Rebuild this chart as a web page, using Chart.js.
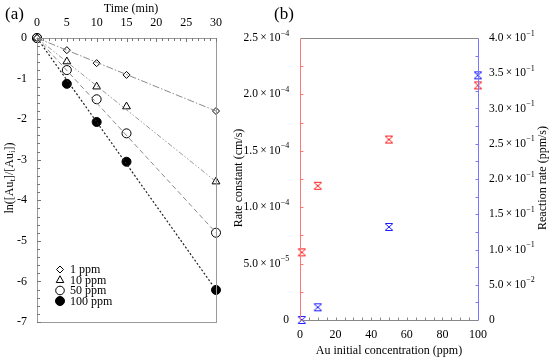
<!DOCTYPE html>
<html>
<head>
<meta charset="utf-8">
<script src="https://cdn.jsdelivr.net/npm/chart.js@4.4.1/dist/chart.umd.min.js"></script>
<style>
html,body{margin:0;padding:0;background:#fff;}
#wrap{position:relative;width:550px;height:360px;overflow:hidden;background:#fff;}
canvas{position:absolute;top:0;}
#ca{left:0;}
#cb{left:230px;}
</style>
</head>
<body>
<div id="wrap">
<canvas id="ca" width="275" height="360"></canvas>
<canvas id="cb" width="320" height="360"></canvas>
</div>
<script>
// ---------- Panel (a) data ----------
const times = [0, 5, 10, 15, 30];
const ppm1 = [0, -0.30, -0.62, -0.91, -1.80];
const ppm10 = [0, -0.58, -1.20, -1.69, -3.54];
const ppm50 = [0, -0.79, -1.51, -2.35, -4.80];
const ppm100 = [0, -1.13, -2.07, -3.05, -6.21];
const fitTimes = [0, 30];
const fit1 = [0, -1.80];
const fit10 = [0, -3.54];
const fit50 = [0, -4.80];
const fit100 = [0, -6.21];
const seriesNames = ['1 ppm', '10 ppm', '50 ppm', '100 ppm'];

// ---------- Panel (b) data ----------
const conc = [1, 10, 50, 100];
const rateConst = [6.0e-5, 1.19e-4, 1.60e-4, 2.08e-4];
const reactRate = [0.0, 0.018, 0.132, 0.347];
const xTicksB = ['0', '20', '40', '60', '80', '100'];
const leftMant = ['0', '5.0', '1.0', '1.5', '2.0', '2.5'];
const leftExp = ['', '\u22125', '\u22124', '\u22124', '\u22124', '\u22124'];
const rightMant = ['0', '5.0', '1.0', '1.5', '2.0', '2.5', '3.0', '3.5', '4.0'];
const rightExp = ['', '\u22122', '\u22121', '\u22121', '\u22121', '\u22121', '\u22121', '\u22121', '\u22121'];

const SERIF = "'Liberation Serif', 'Times New Roman', serif";
const pts = (xs, ys) => xs.map((x, i) => ({x: x, y: ys[i]}));

function asteriskMarker(color) {
  const c = document.createElement('canvas');
  c.width = 10; c.height = 10;
  const g = c.getContext('2d');
  g.strokeStyle = color; g.lineWidth = 1;
  g.beginPath();
  g.moveTo(1, 1.5); g.lineTo(9, 8.5);
  g.moveTo(9, 1.5); g.lineTo(1, 8.5);
  g.moveTo(1.5, 1.5); g.lineTo(8.5, 1.5);
  g.moveTo(1.5, 8.5); g.lineTo(8.5, 8.5);
  g.stroke();
  return c;
}

function drawMarker(ctx, style, x, y) {
  ctx.save();
  ctx.lineWidth = 1;
  ctx.strokeStyle = '#000';
  ctx.fillStyle = '#fff';
  ctx.beginPath();
  if (style === 'diamond') {
    const r = 3.5;
    ctx.moveTo(x, y - r); ctx.lineTo(x + r, y); ctx.lineTo(x, y + r); ctx.lineTo(x - r, y); ctx.closePath();
  } else if (style === 'triangle') {
    const r = 4.2;
    ctx.moveTo(x, y - r); ctx.lineTo(x + r * 0.9, y + r * 0.6); ctx.lineTo(x - r * 0.9, y + r * 0.6); ctx.closePath();
  } else if (style === 'circle') {
    ctx.arc(x, y, 4.3, 0, Math.PI * 2);
  } else {
    ctx.fillStyle = '#000';
    ctx.arc(x, y, 4.5, 0, Math.PI * 2);
  }
  ctx.fill(); ctx.stroke();
  ctx.restore();
}

// ---------- Chart A ----------
const decorA = {
  id: 'decorA',
  afterDraw(chart) {
    const ctx = chart.ctx;
    const a = chart.chartArea;
    const xs = chart.scales.x, ys = chart.scales.y;
    ctx.save();
    ctx.strokeStyle = '#999';
    ctx.lineWidth = 1;
    ctx.strokeRect(Math.round(a.left) + 0.5, Math.round(a.top) + 0.5, Math.round(a.right - a.left), Math.round(a.bottom - a.top));
    ctx.strokeStyle = '#777';
    ctx.beginPath();
    for (let t = 0; t <= 30; t++) {
      const px = Math.round(xs.getPixelForValue(t)) + 0.5;
      const len = (t % 5 === 0) ? 4 : 3;
      ctx.moveTo(px, a.top); ctx.lineTo(px, a.top + len);
    }
    for (let k = 0; k <= 35; k++) {
      const v = -k * 0.2;
      const py = Math.round(ys.getPixelForValue(v)) + 0.5;
      const len = (k % 5 === 0) ? 4 : 3;
      ctx.moveTo(a.left, py); ctx.lineTo(a.left + len, py);
    }
    ctx.stroke();
    ctx.fillStyle = '#000';
    ctx.font = '17px ' + SERIF;
    ctx.textAlign = 'left'; ctx.textBaseline = 'middle';
    ctx.fillText('(a)', 5, 15);
    ctx.font = '12px ' + SERIF;
    ctx.textAlign = 'center';
    ctx.fillText('Time (min)', 131, 9);
    ctx.save();
    ctx.translate(10, 178);
    ctx.rotate(-Math.PI / 2);
    const segs = [['ln([Au', 0], ['t', 1], [']/[Au', 0], ['i', 1], ['])', 0]];
    let total = 0;
    segs.forEach(s => { ctx.font = (s[1] ? '9px ' : '12px ') + SERIF; total += ctx.measureText(s[0]).width; });
    let cx = -total / 2;
    ctx.textAlign = 'left';
    segs.forEach(s => {
      ctx.font = (s[1] ? '9px ' : '12px ') + SERIF;
      ctx.fillText(s[0], cx, s[1] ? 3 : 0);
      cx += ctx.measureText(s[0]).width;
    });
    ctx.restore();
    const styles = ['diamond', 'triangle', 'circle', 'filled'];
    const rowsY = [269.5, 280, 290.5, 301];
    ctx.font = '12px ' + SERIF;
    ctx.textAlign = 'left'; ctx.textBaseline = 'middle';
    seriesNames.forEach((n, i) => {
      drawMarker(ctx, styles[i], 60, rowsY[i]);
      ctx.fillStyle = '#000';
      ctx.fillText(n, 70, rowsY[i] + 0.5);
    });
    ctx.restore();
  }
};

new Chart(document.getElementById('ca'), {
  type: 'scatter',
  data: {
    datasets: [
      {data: pts(fitTimes, fit1), showLine: true, borderColor: '#8a8a8a', borderWidth: 1, borderDash: [7, 2, 1.5, 2], pointRadius: 0, clip: false},
      {data: pts(fitTimes, fit10), showLine: true, borderColor: '#9a9a9a', borderWidth: 1, borderDash: [5, 2, 1.5, 2, 1.5, 2], pointRadius: 0, clip: false},
      {data: pts(fitTimes, fit50), showLine: true, borderColor: '#8a8a8a', borderWidth: 1, borderDash: [5, 3], pointRadius: 0, clip: false},
      {data: pts(fitTimes, fit100), showLine: true, borderColor: '#222', borderWidth: 1.2, borderDash: [2, 2], pointRadius: 0, clip: false},
      {label: seriesNames[0], data: pts(times, ppm1), pointStyle: 'rectRot', pointRadius: 3.5, backgroundColor: '#fff', borderColor: '#000', borderWidth: 1, clip: false},
      {label: seriesNames[1], data: pts(times, ppm10), pointStyle: 'triangle', pointRadius: 4.5, backgroundColor: '#fff', borderColor: '#000', borderWidth: 1, clip: false},
      {label: seriesNames[2], data: pts(times, ppm50), pointStyle: 'circle', pointRadius: 4.5, backgroundColor: '#fff', borderColor: '#000', borderWidth: 1, clip: false},
      {label: seriesNames[3], data: pts(times, ppm100), pointStyle: 'circle', pointRadius: 4.5, backgroundColor: '#000', borderColor: '#000', borderWidth: 1, clip: false}
    ]
  },
  options: {
    responsive: false,
    animation: false,
    layout: {padding: {right: 59, bottom: 38}},
    plugins: {legend: {display: false}, tooltip: {enabled: false}},
    scales: {
      x: {
        type: 'linear', position: 'top', min: 0, max: 30,
        grid: {display: false, drawTicks: false}, border: {display: false},
        ticks: {stepSize: 5, padding: 8, color: '#000', font: {family: SERIF, size: 12}, maxRotation: 0},
        afterFit: s => { s.height = 38; }
      },
      y: {
        type: 'linear', min: -7, max: 0,
        grid: {display: false, drawTicks: false}, border: {display: false},
        ticks: {stepSize: 1, padding: 10, color: '#000', font: {family: SERIF, size: 12}},
        afterFit: s => { s.width = 37; }
      }
    }
  },
  plugins: [decorA]
});

// ---------- Chart B ----------
function sciLabel(ctx, mant, exp, x, y, align) {
  ctx.save();
  ctx.textBaseline = 'middle';
  ctx.textAlign = 'left';
  const main = exp ? mant + '\u2009\u00d7\u200910' : mant;
  ctx.font = '11.5px ' + SERIF;
  const w1 = ctx.measureText(main).width;
  ctx.font = '8px ' + SERIF;
  const w2 = exp ? ctx.measureText(exp).width : 0;
  const start = align === 'right' ? x - w1 - w2 : x;
  ctx.font = '11.5px ' + SERIF;
  ctx.fillText(main, start, y);
  if (exp) {
    ctx.font = '8px ' + SERIF;
    ctx.fillText(exp, start + w1 + 0.3, y - 4.5);
  }
  ctx.restore();
}

const decorB = {
  id: 'decorB',
  afterDraw(chart) {
    const ctx = chart.ctx;
    const a = chart.chartArea;
    const xs = chart.scales.x, yl = chart.scales.yL, yr = chart.scales.yR;
    const L = Math.round(a.left) + 0.5, R = Math.round(a.right) + 0.5, T = Math.round(a.top) + 0.5, B = Math.round(a.bottom) + 0.5;
    ctx.save();
    ctx.lineWidth = 1;
    ctx.strokeStyle = '#888';
    ctx.beginPath();
    ctx.moveTo(L, T); ctx.lineTo(R, T);
    ctx.moveTo(L, B); ctx.lineTo(R, B);
    for (let v = 5; v < 100; v += 5) {
      const px = Math.round(xs.getPixelForValue(v)) + 0.5;
      ctx.moveTo(px, B); ctx.lineTo(px, B - 3);
    }
    ctx.stroke();
    ctx.strokeStyle = 'rgb(255,120,120)';
    ctx.beginPath();
    ctx.moveTo(L, T); ctx.lineTo(L, B);
    for (let k = 1; k < 10; k++) {
      const py = Math.round(yl.getPixelForValue(k * 2.5e-5)) + 0.5;
      ctx.moveTo(L, py); ctx.lineTo(L + 3, py);
    }
    ctx.stroke();
    ctx.strokeStyle = 'rgb(120,120,255)';
    ctx.beginPath();
    ctx.moveTo(R, T); ctx.lineTo(R, B);
    for (let k = 1; k < 16; k++) {
      const py = Math.round(yr.getPixelForValue(k * 0.025)) + 0.5;
      ctx.moveTo(R, py); ctx.lineTo(R - 3, py);
    }
    ctx.stroke();
    ctx.fillStyle = '#000';
    yl.ticks.forEach((t, i) => {
      sciLabel(ctx, leftMant[i], leftExp[i], a.left - 11, yl.getPixelForValue(t.value), 'right');
    });
    yr.ticks.forEach((t, i) => {
      sciLabel(ctx, rightMant[i], rightExp[i], a.right + 11, yr.getPixelForValue(t.value), 'left');
    });
    ctx.font = '17px ' + SERIF;
    ctx.textAlign = 'left'; ctx.textBaseline = 'middle';
    ctx.fillText('(b)', 44, 15);
    ctx.font = '12px ' + SERIF;
    ctx.textAlign = 'center';
    ctx.fillText('Au initial concentration (ppm)', (a.left + a.right) / 2, 351);
    ctx.save();
    ctx.translate(9, 178); ctx.rotate(-Math.PI / 2);
    ctx.fillText('Rate constant (cm/s)', 0, 0);
    ctx.restore();
    ctx.save();
    ctx.translate(313, 178); ctx.rotate(-Math.PI / 2);
    ctx.fillText('Reaction rate (ppm/s)', 0, 0);
    ctx.restore();
    ctx.restore();
  }
};

const redMark = asteriskMarker('rgb(255,30,30)');
const blueMark = asteriskMarker('rgb(30,30,255)');

new Chart(document.getElementById('cb'), {
  type: 'scatter',
  data: {
    datasets: [
      {label: 'Rate constant', data: pts(conc, rateConst), yAxisID: 'yL', pointStyle: redMark, clip: false},
      {label: 'Reaction rate', data: pts(conc, reactRate), yAxisID: 'yR', pointStyle: blueMark, clip: false}
    ]
  },
  options: {
    responsive: false,
    animation: false,
    layout: {padding: {top: 38}},
    plugins: {legend: {display: false}, tooltip: {enabled: false}},
    scales: {
      x: {
        type: 'linear', position: 'bottom', min: 0, max: 100,
        grid: {display: false, drawTicks: false}, border: {display: false},
        ticks: {stepSize: 20, padding: 8, color: '#000', font: {family: SERIF, size: 12}, maxRotation: 0,
          callback: (v, i) => xTicksB[i]},
        afterFit: s => { s.height = 40; }
      },
      yL: {
        type: 'linear', position: 'left', min: 0, max: 2.5e-4,
        grid: {display: false, drawTicks: false}, border: {display: false},
        ticks: {display: false, stepSize: 5e-5},
        afterFit: s => { s.width = 70; }
      },
      yR: {
        type: 'linear', position: 'right', min: 0, max: 0.4,
        grid: {display: false, drawTicks: false}, border: {display: false},
        ticks: {display: false, stepSize: 0.05},
        afterFit: s => { s.width = 72; }
      }
    }
  },
  plugins: [decorB]
});
</script>
</body>
</html>
